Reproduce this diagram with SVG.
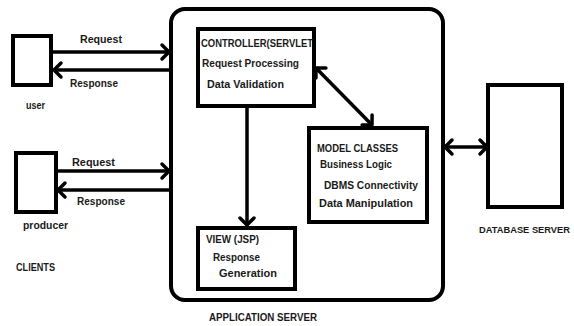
<svg xmlns="http://www.w3.org/2000/svg" width="574" height="326" viewBox="0 0 574 326">
<style>
.box{fill:#fff;stroke:#000;stroke-width:4}
.ln{stroke:#000;stroke-width:3.5;fill:none}
text{font-family:"Liberation Sans",Arial,sans-serif;font-weight:bold;font-size:11px;fill:#1a1a1a}
.sm{font-size:9.2px}
</style>
<defs>
<marker id="ah" markerUnits="userSpaceOnUse" markerWidth="20" markerHeight="20" viewBox="-10 -10 20 20" refX="0" refY="0" orient="auto-start-reverse">
<path d="M-7,-7 L0,0 L-7,7" fill="none" stroke="#000" stroke-width="3.5" stroke-linecap="round" stroke-linejoin="round"/>
</marker>
</defs>
<rect width="574" height="326" fill="#fff"/>
<g id="app-server">
<rect class="box" x="171" y="9" width="272" height="291" rx="14"/>
<text x="209" y="321" textLength="108" lengthAdjust="spacingAndGlyphs">APPLICATION SERVER</text>
</g>
<g id="user">
<rect class="box" x="13" y="36" width="38" height="49"/>
<text x="26" y="109" textLength="19" lengthAdjust="spacingAndGlyphs">user</text>
</g>
<g id="producer">
<rect class="box" x="16" y="153" width="40" height="59"/>
<text x="23" y="229" textLength="45" lengthAdjust="spacingAndGlyphs">producer</text>
</g>
<g id="clients">
<text x="16" y="271" textLength="39" lengthAdjust="spacingAndGlyphs">CLIENTS</text>
</g>
<g id="controller">
<rect class="box" x="198" y="29" width="116" height="77"/>
<text x="201" y="47" textLength="112" lengthAdjust="spacingAndGlyphs">CONTROLLER(SERVLET</text>
<text x="202" y="67" textLength="97" lengthAdjust="spacingAndGlyphs">Request Processing</text>
<text x="207" y="88" textLength="77" lengthAdjust="spacingAndGlyphs">Data Validation</text>
</g>
<g id="model">
<rect class="box" x="309" y="128" width="118" height="94"/>
<text x="317" y="152" textLength="81" lengthAdjust="spacingAndGlyphs">MODEL CLASSES</text>
<text x="320" y="168" textLength="72" lengthAdjust="spacingAndGlyphs">Business Logic</text>
<text x="324" y="189" textLength="94" lengthAdjust="spacingAndGlyphs">DBMS Connectivity</text>
<text x="319" y="207" textLength="94" lengthAdjust="spacingAndGlyphs">Data Manipulation</text>
</g>
<g id="view">
<rect class="box" x="198" y="228" width="97" height="61"/>
<text x="206" y="243" textLength="53" lengthAdjust="spacingAndGlyphs">VIEW (JSP)</text>
<text x="213" y="261" textLength="47" lengthAdjust="spacingAndGlyphs">Response</text>
<text x="219" y="277" textLength="58" lengthAdjust="spacingAndGlyphs">Generation</text>
</g>
<g id="database">
<rect class="box" x="488" y="85" width="74" height="122"/>
<text class="sm" x="479" y="233" textLength="91" lengthAdjust="spacingAndGlyphs">DATABASE SERVER</text>
</g>
<g id="connectors">
<line class="ln" x1="51" y1="52" x2="169" y2="52" marker-end="url(#ah)"/>
<line class="ln" x1="171" y1="70" x2="54" y2="70" marker-end="url(#ah)"/>
<line class="ln" x1="56" y1="171" x2="169" y2="171" marker-end="url(#ah)"/>
<line class="ln" x1="171" y1="190" x2="58" y2="190" marker-end="url(#ah)"/>
<line class="ln" x1="316" y1="68" x2="372" y2="125" marker-start="url(#ah)" marker-end="url(#ah)"/>
<line class="ln" x1="247" y1="106" x2="247" y2="225" marker-end="url(#ah)"/>
<line class="ln" x1="445" y1="147" x2="487" y2="147" marker-start="url(#ah)" marker-end="url(#ah)"/>
</g>
<g id="labels">
<text x="80" y="43" textLength="42" lengthAdjust="spacingAndGlyphs">Request</text>
<text x="70" y="87" textLength="48" lengthAdjust="spacingAndGlyphs">Response</text>
<text x="72" y="166" textLength="43" lengthAdjust="spacingAndGlyphs">Request</text>
<text x="77" y="205" textLength="48" lengthAdjust="spacingAndGlyphs">Response</text>
</g>
</svg>
